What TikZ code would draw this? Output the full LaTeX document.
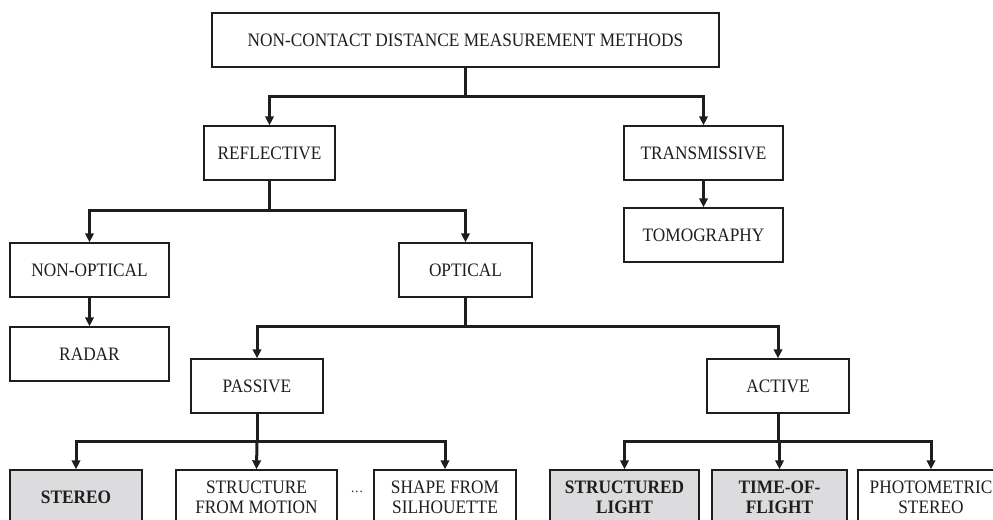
\documentclass[tikz,border=0pt]{standalone}
\usepackage{fontspec}
\setmainfont{Liberation Serif}[FakeStretch=0.91]
\usetikzlibrary{arrows.meta}
\definecolor{boxgray}{RGB}{220,220,222}
\definecolor{ink}{RGB}{30,30,30}
\begin{document}
\begin{tikzpicture}[x=1bp,y=-1bp,
  every node/.style={font=\fontsize{19bp}{20bp}\selectfont, text=ink},
  box/.style={draw=ink, line width=1.4bp, rectangle, minimum height=54bp, inner sep=0pt, align=center, fill=white},
  hbox/.style={box, fill=boxgray, font=\fontsize{19bp}{20bp}\selectfont\bfseries},
  conn/.style={draw=ink, line width=3bp, line join=miter},
  arr/.style={conn, -{Triangle[length=9bp,width=8.5bp]}}]
\useasboundingbox (0,0) rectangle (993,520);
\clip (0,0) rectangle (993,520);
% nodes
\node[box, minimum width=507bp] (top) at (465.5,40) {NON-CONTACT DISTANCE MEASUREMENT METHODS};
\node[box, minimum width=131bp] (refl) at (269.5,153) {REFLECTIVE};
\node[box, minimum width=159bp] (trans) at (703.5,153) {TRANSMISSIVE};
\node[box, minimum width=159bp] (tomo) at (703.5,235) {TOMOGRAPHY};
\node[box, minimum width=159bp] (nonopt) at (89.5,270) {NON-OPTICAL};
\node[box, minimum width=133bp] (opt) at (465.5,270) {OPTICAL};
\node[box, minimum width=159bp] (radar) at (89.5,354) {RADAR};
\node[box, minimum width=132bp] (passive) at (257,386) {PASSIVE};
\node[box, minimum width=142bp] (active) at (778,386) {ACTIVE};
\node[hbox, minimum width=132bp] (stereo) at (76,497) {STEREO};
\node[box, minimum width=161bp] (sfm) at (256.5,497) {STRUCTURE\\FROM MOTION};
\node (dots) at (357,492) {\fontsize{14bp}{14bp}\selectfont\dots};
\node[box, minimum width=142bp] (sfs) at (445,497) {SHAPE FROM\\SILHOUETTE};
\node[hbox, minimum width=149bp] (sl) at (624.5,497) {STRUCTURED\\LIGHT};
\node[hbox, minimum width=135bp] (tof) at (779.5,497) {TIME-OF-\\FLIGHT};
\node[box, minimum width=146bp] (ps) at (931,497) {PHOTOMETRIC\\STEREO};
% junctions
\coordinate (j1) at (465.5,97);
\coordinate (j2) at (269.5,211);
\coordinate (j3) at (465.5,327);
\coordinate (j4) at (257,441);
\coordinate (j5) at (778,441);
% connectors
\draw[conn] (top.south) -- (j1);
\draw[arr] (j1) -| (refl.north);
\draw[arr] (j1) -| (trans.north);
\draw[arr] (trans.south) -- (tomo.north);
\draw[conn] (refl.south) -- (j2);
\draw[arr] (j2) -| (nonopt.north);
\draw[arr] (j2) -| (opt.north);
\draw[arr] (nonopt.south) -- (radar.north);
\draw[conn] (opt.south) -- (j3);
\draw[arr] (j3) -| (passive.north);
\draw[arr] (j3) -| (active.north);
\draw[conn] (passive.south) -- (j4);
\draw[arr] (j4) -| (stereo.north);
\draw[arr] (j4) -- (sfm.north);
\draw[arr] (j4) -| (sfs.north);
\draw[conn] (active.south) -- (j5);
\draw[arr] (j5) -| (sl.north);
\draw[arr] (j5) -| (tof.north);
\draw[arr] (j5) -| (ps.north);
\end{tikzpicture}
\end{document}
